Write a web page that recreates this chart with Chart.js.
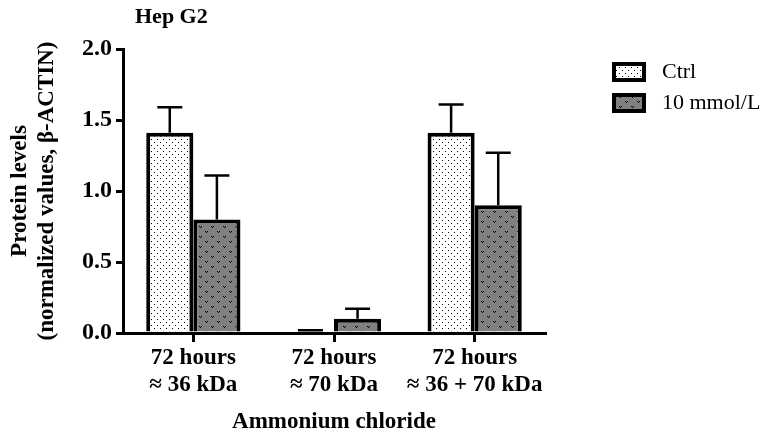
<!DOCTYPE html>
<html>
<head>
<meta charset="utf-8">
<script src="https://cdn.jsdelivr.net/npm/chart.js@4"></script>
<style>
  html, body { margin: 0; padding: 0; background: #fff; }
  #wrap { width: 762px; height: 436px; }
</style>
</head>
<body>
<div id="wrap"><canvas id="chart" width="762" height="436"></canvas></div>
<script>
// Hep G2 — protein levels after 72 h ammonium chloride
const categories = [['72 hours', '≈ 36 kDa'], ['72 hours', '≈ 70 kDa'], ['72 hours', '≈ 36 + 70 kDa']];
const seriesNames = ['Ctrl', '10 mmol/L'];
const ctrlValues = [1.41, 0.01, 1.41];
const ctrlErrors = [0.18, 0.01, 0.20];
const nh4clValues = [0.80, 0.10, 0.90];
const nh4clErrors = [0.31, 0.07, 0.37];
const yTicks = [0, 0.5, 1.0, 1.5, 2.0];

const SERIF = '"Liberation Serif", "Times New Roman", serif';

// fill patterns: fine dots on white, little "v" marks on grey
function dotPattern(ctx) {
  const c = document.createElement('canvas');
  c.width = 6; c.height = 6;
  const g = c.getContext('2d');
  g.fillStyle = '#fff';
  g.fillRect(0, 0, 6, 6);
  g.fillStyle = '#000';
  g.fillRect(1, 1, 1, 1);
  g.fillRect(4, 4, 1, 1);
  return ctx.createPattern(c, 'repeat');
}

function vPattern(ctx) {
  const c = document.createElement('canvas');
  c.width = 12; c.height = 10;
  const g = c.getContext('2d');
  g.fillStyle = '#808080';
  g.fillRect(0, 0, 12, 10);
  g.fillStyle = '#000';
  const v = (x, y) => {
    g.fillRect(x, y, 1, 1);
    g.fillRect(x + 2, y, 1, 1);
    g.fillRect(x + 1, y + 1, 1, 1);
  };
  v(1, 1);
  v(7, 6);
  return ctx.createPattern(c, 'repeat');
}

const ctx = document.getElementById('chart').getContext('2d');
const fills = [dotPattern(ctx), vPattern(ctx)];

// error bars (mean + SD, upper side only)
const errorBars = {
  id: 'errorBars',
  afterDatasetsDraw(chart) {
    const { ctx } = chart;
    const y = chart.scales.y;
    ctx.save();
    ctx.strokeStyle = '#000';
    ctx.lineWidth = 2.5;
    chart.data.datasets.forEach((ds, i) => {
      chart.getDatasetMeta(i).data.forEach((bar, j) => {
        const top = y.getPixelForValue(ds.data[j] + ds.errors[j]);
        ctx.beginPath();
        ctx.moveTo(bar.x, bar.y);
        ctx.lineTo(bar.x, top);
        ctx.moveTo(bar.x - 12.5, top);
        ctx.lineTo(bar.x + 12.5, top);
        ctx.stroke();
      });
    });
    ctx.restore();
  }
};

// title and legend
const decorations = {
  id: 'decorations',
  afterDraw(chart) {
    const { ctx, chartArea } = chart;
    ctx.save();
    ctx.fillStyle = '#000';
    ctx.textBaseline = 'middle';
    ctx.font = `bold 22px ${SERIF}`;
    ctx.fillText('Hep G2', chartArea.left + 12, 17);

    ctx.font = `22px ${SERIF}`;
    chart.data.datasets.forEach((ds, i) => {
      const top = 62 + i * 31;
      ctx.fillStyle = '#000';
      ctx.fillRect(612, top, 34, 20);
      ctx.fillStyle = ds.backgroundColor;
      ctx.fillRect(616, top + 4, 26, 12);
      ctx.fillStyle = '#000';
      ctx.fillText(ds.label, 662, top + 10);
    });
    ctx.restore();
  }
};

new Chart(ctx, {
  type: 'bar',
  data: {
    labels: categories,
    datasets: [
      { label: seriesNames[0], data: ctrlValues, errors: ctrlErrors, backgroundColor: fills[0] },
      { label: seriesNames[1], data: nh4clValues, errors: nh4clErrors, backgroundColor: fills[1] }
    ]
  },
  options: {
    responsive: false,
    animation: false,
    devicePixelRatio: 1,
    layout: { padding: { top: 49, right: 217, left: 0, bottom: 0 } },
    datasets: {
      bar: {
        borderColor: '#000',
        borderWidth: 4,
        borderSkipped: 'start',
        categoryPercentage: 0.67,
        barPercentage: 1.0
      }
    },
    plugins: {
      legend: { display: false },
      tooltip: { enabled: false }
    },
    scales: {
      x: {
        afterFit(scale) { scale.height = 103; },
        border: { color: '#000', width: 3, z: 1 },
        grid: {
          offset: false,
          drawOnChartArea: false,
          color: '#000',
          lineWidth: 3,
          tickLength: 9
        },
        ticks: {
          color: '#000',
          padding: 3,
          maxRotation: 0,
          font: { family: SERIF, size: 23, weight: 'bold', lineHeight: 1.17 }
        },
        title: {
          display: true,
          text: 'Ammonium chloride',
          color: '#000',
          padding: { top: 2, bottom: 0 },
          font: { family: SERIF, size: 23, weight: 'bold' }
        }
      },
      y: {
        min: 0,
        max: 2,
        afterFit(scale) { scale.width = 123; },
        afterBuildTicks(scale) { scale.ticks = yTicks.map(v => ({ value: v })); },
        border: { color: '#000', width: 3 },
        grid: {
          drawOnChartArea: false,
          color: '#000',
          lineWidth: 3,
          tickLength: 7
        },
        ticks: {
          color: '#000',
          padding: 4,
          callback: v => v.toFixed(1),
          font: { family: SERIF, size: 24, weight: 'bold' }
        },
        title: {
          display: true,
          text: ['Protein levels', '(normalized values, β-ACTIN)'],
          color: '#000',
          padding: { top: 7, bottom: 0 },
          font: { family: SERIF, size: 23, weight: 'bold', lineHeight: 1.17 }
        }
      }
    }
  },
  plugins: [errorBars, decorations]
});
</script>
</body>
</html>
